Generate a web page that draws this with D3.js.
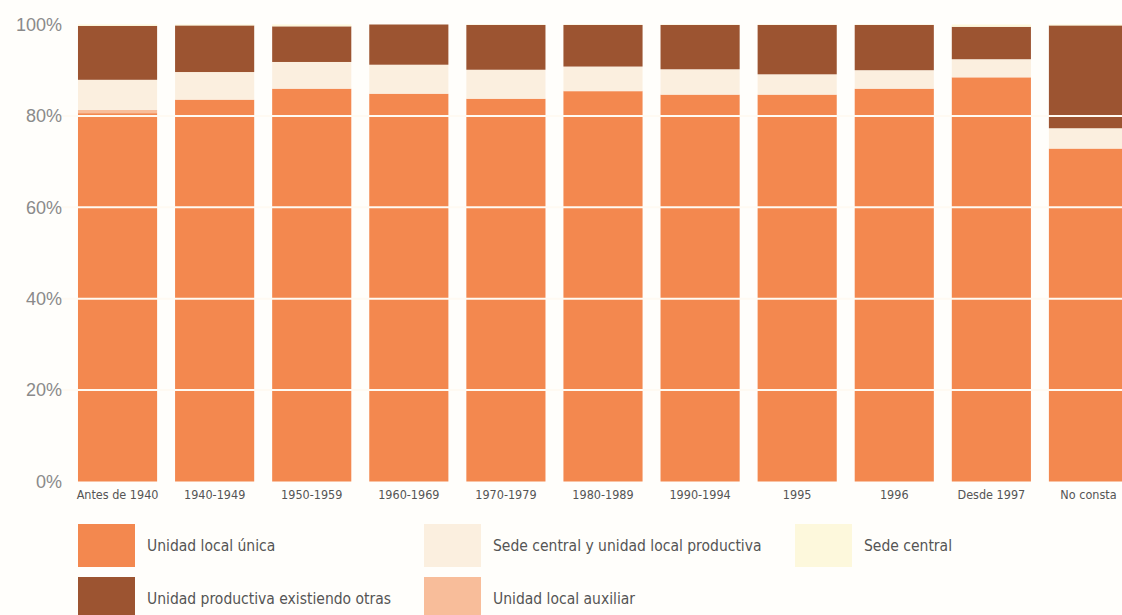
<!DOCTYPE html>
<html>
<head>
<meta charset="utf-8">
<script src="https://cdn.jsdelivr.net/npm/d3@7"></script>
<style>
  html, body { margin: 0; padding: 0; background: #fffefb; }
  svg { display: block; }
</style>
</head>
<body>
<svg id="chart" width="1122" height="615"></svg>
<script>
// ---- Data (percent) ----
const categories = ["Antes de 1940","1940-1949","1950-1959","1960-1969","1970-1979","1980-1989","1990-1994","1995","1996","Desde 1997","No consta"];
const unidadLocalUnica      = [80.6, 83.5, 85.9, 84.8, 83.7, 85.4, 84.6, 84.6, 85.9, 88.4, 72.8];
const unidadLocalAuxiliar   = [0.7, 0.1, 0.1, 0.1, 0.1, 0.1, 0.1, 0.1, 0.1, 0.1, 0.1];
const sedeCentralYProductiva= [6.6, 6.0, 5.8, 6.3, 6.3, 5.3, 5.5, 4.4, 4.0, 3.9, 4.4];
const productivaOtras       = [11.8, 10.2, 7.8, 8.8, 9.8, 9.1, 9.7, 10.8, 9.9, 7.1, 22.5];
const sedeCentral           = [0.3, 0.2, 0.4, 0.0, 0.1, 0.1, 0.1, 0.1, 0.1, 0.5, 0.2];
const yTicks = [0, 20, 40, 60, 80, 100];
const legendLabels = ["Unidad local única","Sede central y unidad local productiva","Sede central","Unidad productiva existiendo otras","Unidad local auxiliar"];

const keys = ["unica","auxiliar","sedeProd","otras","sede"];
const colors = {unica:"#f3884f", auxiliar:"#f8bd9a", sedeProd:"#fbefdf", otras:"#9c5431", sede:"#fdf8dc"};
const legendKeys = ["unica","sedeProd","sede","otras","auxiliar"];

const rows = categories.map((c,i)=>({cat:c, unica:unidadLocalUnica[i], auxiliar:unidadLocalAuxiliar[i], sedeProd:sedeCentralYProductiva[i], otras:productivaOtras[i], sede:sedeCentral[i]}));

const svg = d3.select("#chart");
const x = d3.scaleBand().domain(categories).range([69, 1137]).paddingInner(0.185).paddingOuter(0.0925);
const y = d3.scaleLinear().domain([0,100]).range([481.5, 24.5]);

const stack = d3.stack().keys(keys)(rows);

svg.append("g").selectAll("g").data(stack).join("g")
  .attr("fill", d => colors[d.key])
  .selectAll("rect").data(d => d).join("rect")
  .attr("x", d => x(d.data.cat))
  .attr("width", x.bandwidth())
  .attr("y", d => y(d[1]))
  .attr("height", d => Math.max(0, y(d[0]) - y(d[1])));

// white gridlines over bars
svg.append("g").selectAll("line").data(yTicks.filter(t => t > 0 && t < 100)).join("line")
  .attr("x1", 60).attr("x2", 1122)
  .attr("y1", d => y(d)).attr("y2", d => y(d))
  .attr("stroke", "#fffaf2").attr("stroke-width", 2);

// y-axis labels
const yAxis = d3.axisLeft(y).tickValues(yTicks).tickFormat(d => d + "%").tickSize(0).tickPadding(0);
const ya = svg.append("g").attr("transform", "translate(62,0)").call(yAxis);
ya.select(".domain").remove();
ya.selectAll("text").attr("font-family", "Liberation Sans, Arial, sans-serif").attr("font-size", 18).attr("fill", "#8a8a8a");

// x-axis labels
const xAxis = d3.axisBottom(x).tickSize(0).tickPadding(0);
const xa = svg.append("g").attr("transform", "translate(0,490)").call(xAxis);
xa.select(".domain").remove();
xa.selectAll("text").attr("font-family", "Liberation Sans Narrow, DejaVu Sans Condensed, sans-serif")
  .attr("font-size", 12.5).attr("fill", "#555").attr("dy", "0.71em");

// legend
const legPos = [
  {x:78, y:524}, {x:424, y:524}, {x:795, y:524},
  {x:78, y:577}, {x:424, y:577}
];
const leg = svg.append("g").selectAll("g").data(legendKeys).join("g")
  .attr("transform", (d,i) => `translate(${legPos[i].x},${legPos[i].y})`);
leg.append("rect").attr("width", 57).attr("height", 43).attr("fill", d => colors[d]);
leg.append("text").attr("x", 69).attr("y", 21.5).attr("dy", "0.35em")
  .attr("font-family", "Liberation Sans Narrow, DejaVu Sans Condensed, sans-serif")
  .attr("font-size", 15.5).attr("fill", "#555")
  .text((d,i) => legendLabels[i]);
</script>
</body>
</html>
